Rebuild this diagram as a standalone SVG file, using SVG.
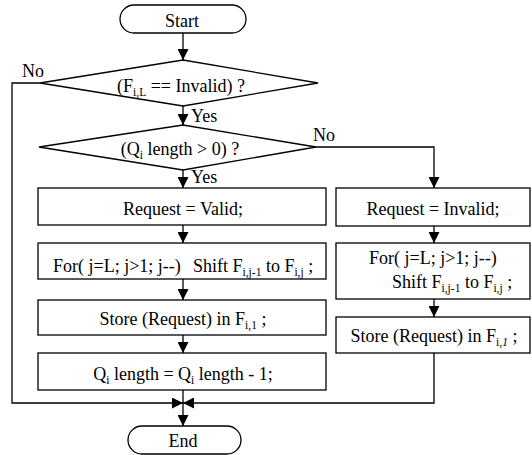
<svg xmlns="http://www.w3.org/2000/svg" width="532" height="455" viewBox="0 0 532 455" font-family="'Liberation Serif', 'DejaVu Serif', 'Times New Roman', serif">
<style>
  .shape { fill: #fff; stroke: #000; stroke-width: 1.3; }
  .line { fill: none; stroke: #000; stroke-width: 1.3; }
  text { font-family: "Liberation Serif", "DejaVu Serif", "Times New Roman", serif; font-size: 18px; fill: #000; }
  .c { text-anchor: middle; }
  .sub { font-size: 11.5px; }
</style>
<defs>
  <marker id="arr" viewBox="0 0 10 10" refX="10" refY="5" markerUnits="userSpaceOnUse" markerWidth="11" markerHeight="11" orient="auto">
    <path d="M0,0 L10,5 L0,10 z" fill="#000"/>
  </marker>
</defs>
<rect width="532" height="455" fill="#fff"/>

<g id="connectors">
  <line class="line" x1="183" y1="33" x2="183" y2="60" marker-end="url(#arr)"/>
  <line class="line" x1="183" y1="106" x2="183" y2="125" marker-end="url(#arr)"/>
  <line class="line" x1="183" y1="170" x2="183" y2="188" marker-end="url(#arr)"/>
  <line class="line" x1="183" y1="225" x2="183" y2="243" marker-end="url(#arr)"/>
  <line class="line" x1="183" y1="279" x2="183" y2="300" marker-end="url(#arr)"/>
  <line class="line" x1="183" y1="335" x2="183" y2="353" marker-end="url(#arr)"/>
  <line class="line" x1="183" y1="390" x2="183" y2="426" marker-end="url(#arr)"/>
  <polyline class="line" points="316,147 434,147 434,188" marker-end="url(#arr)"/>
  <line class="line" x1="434" y1="226" x2="434" y2="243" marker-end="url(#arr)"/>
  <line class="line" x1="434" y1="299" x2="434" y2="317" marker-end="url(#arr)"/>
  <polyline class="line" points="40,83 12,83 12,403 183,403" marker-end="url(#arr)"/>
  <polyline class="line" points="434,353 434,403 183,403" marker-end="url(#arr)"/>
  <text x="22" y="77">No</text>
  <text x="191" y="122">Yes</text>
  <text x="313" y="141">No</text>
  <text x="191" y="183">Yes</text>
</g>

<g id="start">
  <rect class="shape" x="120" y="5" width="126" height="28" rx="14" ry="14"/>
  <text class="c" x="182" y="27">Start</text>
</g>

<g id="decision1">
  <polygon class="shape" points="183,60 318,83 183,106 40,83"/>
  <text class="c" x="181" y="92">(F<tspan class="sub" dy="4">i,L</tspan><tspan dy="-4"> == Invalid) ?</tspan></text>
</g>

<g id="decision2">
  <polygon class="shape" points="183,125 316,147 183,170 39,147"/>
  <text class="c" x="180" y="155">(Q<tspan class="sub" dy="4">i</tspan><tspan dy="-4"> length &gt; 0) ?</tspan></text>
</g>

<g id="valid">
  <rect class="shape" x="38" y="188" width="288" height="37"/>
  <text class="c" x="183" y="215">Request = Valid;</text>
</g>

<g id="shiftLeft">
  <rect class="shape" x="38" y="243" width="288" height="36"/>
  <text x="53" y="272">For( j=L; j&gt;1; j--)</text>
  <text x="193" y="272">Shift F<tspan class="sub" dy="4">i,j-1</tspan><tspan dy="-4"> to F</tspan><tspan class="sub" dy="4">i,j</tspan><tspan dy="-4"> ;</tspan></text>
</g>

<g id="storeLeft">
  <rect class="shape" x="38" y="300" width="288" height="35"/>
  <text class="c" x="183" y="325">Store (Request) in F<tspan class="sub" dy="4">i,1</tspan><tspan dy="-4"> ;</tspan></text>
</g>

<g id="decrement">
  <rect class="shape" x="38" y="353" width="288" height="37"/>
  <text class="c" x="183" y="380">Q<tspan class="sub" dy="4">i</tspan><tspan dy="-4"> length = Q</tspan><tspan class="sub" dy="4">i</tspan><tspan dy="-4"> length - 1;</tspan></text>
</g>

<g id="invalid">
  <rect class="shape" x="336" y="188" width="194" height="38"/>
  <text class="c" x="433" y="215">Request = Invalid;</text>
</g>

<g id="shiftRight">
  <rect class="shape" x="336" y="243" width="194" height="56"/>
  <text x="369" y="264">For( j=L; j&gt;1; j--)</text>
  <text x="392" y="288">Shift F<tspan class="sub" dy="4">i,j-1</tspan><tspan dy="-4"> to F</tspan><tspan class="sub" dy="4">i,j</tspan><tspan dy="-4"> ;</tspan></text>
</g>

<g id="storeRight">
  <rect class="shape" x="336" y="317" width="194" height="36"/>
  <text class="c" x="434" y="342">Store (Request) in F<tspan class="sub" dy="4">i,<tspan font-style="italic">1</tspan></tspan><tspan dy="-4"> ;</tspan></text>
</g>

<g id="end">
  <rect class="shape" x="128" y="426" width="113" height="28" rx="14" ry="14"/>
  <text class="c" x="183" y="447">End</text>
</g>
</svg>
